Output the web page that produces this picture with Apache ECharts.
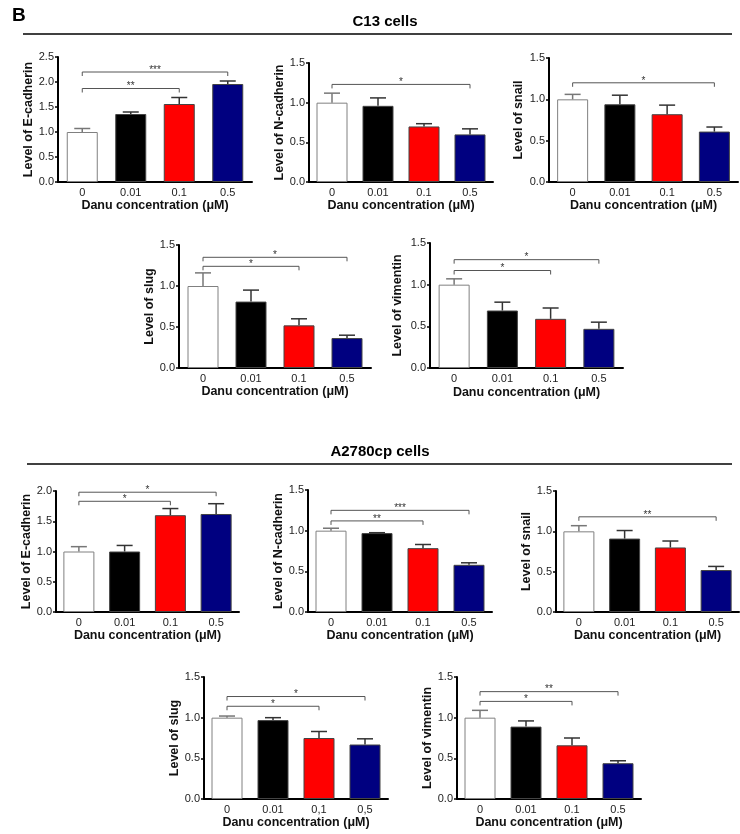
<!DOCTYPE html>
<html><head><meta charset="utf-8">
<script src="https://cdn.jsdelivr.net/npm/echarts@6/dist/echarts.min.js"></script>
<style>html,body{margin:0;padding:0;background:#fff}#c{width:740px;height:834px}</style>
</head><body><div id="c"></div>
<script>
// ---------- data ----------
const doses = ['0', '0.01', '0.1', '0.5'];
const dosesComma = ['0', '0.01', '0,1', '0,5'];
const barColors = ['#ffffff', '#000000', '#ff0000', '#000080'];
const xTitle = 'Danu concentration (\u03bcM)';

// C13 cells
const c13Ecad = [1.00, 1.36, 1.56, 1.96];
const c13EcadUp = [1.07, 1.40, 1.69, 2.02];
const c13EcadSig = [[0, 3, 2.2, '***'], [0, 2, 1.87, '**']];

const c13Ncad = [1.00, 0.96, 0.70, 0.60];
const c13NcadUp = [1.12, 1.06, 0.735, 0.67];
const c13NcadSig = [[0, 3, 1.23, '*']];

const c13Snail = [1.00, 0.94, 0.82, 0.61];
const c13SnailUp = [1.06, 1.05, 0.93, 0.665];
const c13SnailSig = [[0, 3, 1.2, '*']];

const c13Slug = [1.00, 0.81, 0.52, 0.365];
const c13SlugUp = [1.16, 0.95, 0.60, 0.40];
const c13SlugSig = [[0, 3, 1.35, '*'], [0, 2, 1.24, '*']];

const c13Vim = [1.00, 0.69, 0.59, 0.47];
const c13VimUp = [1.07, 0.79, 0.72, 0.55];
const c13VimSig = [[0, 3, 1.3, '*'], [0, 2, 1.17, '*']];

// A2780cp cells
const aEcad = [1.00, 1.00, 1.60, 1.62];
const aEcadUp = [1.08, 1.10, 1.71, 1.79];
const aEcadSig = [[0, 3, 1.98, '*'], [0, 2, 1.83, '*']];

const aNcad = [1.00, 0.97, 0.785, 0.58];
const aNcadUp = [1.03, 0.975, 0.83, 0.605];
const aNcadSig = [[0, 3, 1.25, '***'], [0, 2, 1.12, '**']];

const aSnail = [1.00, 0.91, 0.80, 0.52];
const aSnailUp = [1.07, 1.01, 0.88, 0.565];
const aSnailSig = [[0, 3, 1.18, '**']];

const aSlug = [1.00, 0.97, 0.75, 0.67];
const aSlugUp = [1.02, 1.00, 0.83, 0.74];
const aSlugSig = [[0, 3, 1.26, '*'], [0, 2, 1.14, '*']];

const aVim = [1.00, 0.89, 0.66, 0.44];
const aVimUp = [1.09, 0.96, 0.75, 0.47];
const aVimSig = [[0, 3, 1.32, '**'], [0, 2, 1.2, '*']];

// ---------- panels (layout + references to data) ----------
const panels = [
  {name: 'Level of E-cadherin', cats: doses, v: c13Ecad, up: c13EcadUp, sig: c13EcadSig, max: 2.5, left: 58, top: 57, width: 194, height: 125, gy: 20, gx: 13},
  {name: 'Level of N-cadherin', cats: doses, v: c13Ncad, up: c13NcadUp, sig: c13NcadSig, max: 1.5, left: 309, top: 63, width: 184, height: 119, gy: 20, gx: 16},
  {name: 'Level of snail', cats: doses, v: c13Snail, up: c13SnailUp, sig: c13SnailSig, max: 1.5, left: 549, top: 58, width: 189, height: 124, gy: 24, gx: 16},
  {name: 'Level of slug', cats: doses, v: c13Slug, up: c13SlugUp, sig: c13SlugSig, max: 1.5, left: 179, top: 245, width: 192, height: 123, gy: 23, gx: 17},
  {name: 'Level of vimentin', cats: doses, v: c13Vim, up: c13VimUp, sig: c13VimSig, max: 1.5, left: 430, top: 243, width: 193, height: 125, gy: 26, gx: 18},
  {name: 'Level of E-cadherin', cats: doses, v: aEcad, up: aEcadUp, sig: aEcadSig, max: 2.0, left: 56, top: 491, width: 183, height: 121, gy: 21, gx: 16},
  {name: 'Level of N-cadherin', cats: doses, v: aNcad, up: aNcadUp, sig: aNcadSig, max: 1.5, left: 308, top: 490, width: 184, height: 122, gy: 22, gx: 16},
  {name: 'Level of snail', cats: doses, v: aSnail, up: aSnailUp, sig: aSnailSig, max: 1.5, left: 556, top: 491, width: 183, height: 121, gy: 18, gx: 16},
  {name: 'Level of slug', cats: dosesComma, v: aSlug, up: aSlugUp, sig: aSlugSig, max: 1.5, left: 204, top: 677, width: 184, height: 122, gy: 21, gx: 17},
  {name: 'Level of vimentin', cats: doses, v: aVim, up: aVimUp, sig: aVimSig, max: 1.5, left: 457, top: 677, width: 184, height: 122, gy: 21, gx: 17}
];

const FONT = '"Liberation Sans", Arial, Helvetica, sans-serif';

const grid = [], xAxis = [], yAxis = [], series = [];
panels.forEach((p, k) => {
  grid.push({left: p.left, top: p.top, width: p.width, height: p.height, containLabel: false});
  xAxis.push({
    gridIndex: k, type: 'category', data: p.cats,
    name: xTitle, nameLocation: 'middle', nameGap: p.gx,
    nameTextStyle: {fontWeight: 'bold', fontSize: 12.5, color: '#111', fontFamily: FONT},
    axisLine: {lineStyle: {color: '#000', width: 2}},
    axisTick: {show: false},
    axisLabel: {color: '#222', fontSize: 11, margin: 5, fontFamily: FONT},
    splitLine: {show: false}
  });
  yAxis.push({
    gridIndex: k, type: 'value', min: 0, max: p.max, interval: 0.5,
    name: p.name, nameLocation: 'middle', nameGap: p.gy, nameRotate: 90,
    nameTextStyle: {fontWeight: 'bold', fontSize: 12.5, color: '#111', fontFamily: FONT},
    axisLine: {show: true, lineStyle: {color: '#000', width: 2}},
    axisTick: {show: true, length: 3, lineStyle: {color: '#000', width: 1.5}},
    axisLabel: {color: '#222', fontSize: 11, margin: 4, fontFamily: FONT, formatter: v => v.toFixed(1)},
    splitLine: {show: false}
  });
  series.push({
    type: 'bar', xAxisIndex: k, yAxisIndex: k, barWidth: 31,
    data: p.v.map((val, i) => ({value: val, itemStyle: {color: barColors[i], borderColor: i === 0 ? '#808080' : '#444', borderWidth: 1}})),
    silent: true, animation: false
  });
  series.push({
    type: 'custom', xAxisIndex: k, yAxisIndex: k, silent: true, animation: false, z: 3,
    encode: {x: 0, y: [1, 2]},
    data: p.v.map((val, i) => [i, val, p.up[i]]),
    renderItem: (params, api) => {
      const a = api.coord([api.value(0), api.value(1)]);
      const b = api.coord([api.value(0), api.value(2)]);
      const c = params.dataIndex === 0 ? '#777' : '#333';
      return {type: 'group', children: [
        {type: 'line', shape: {x1: a[0], y1: a[1], x2: b[0], y2: b[1]}, style: {stroke: c, lineWidth: 1.5}},
        {type: 'line', shape: {x1: b[0] - 8, y1: b[1], x2: b[0] + 8, y2: b[1]}, style: {stroke: c, lineWidth: 1.5}}
      ]};
    }
  });
  series.push({
    type: 'custom', xAxisIndex: k, yAxisIndex: k, silent: true, animation: false, z: 4,
    encode: {x: [0, 1], y: 2},
    data: p.sig.map(s => [s[0], s[1], s[2]]),
    renderItem: (params, api) => {
      const a = api.coord([api.value(0), api.value(2)]);
      const b = api.coord([api.value(1), api.value(2)]);
      const lab = p.sig[params.dataIndex][3];
      const st = {stroke: '#555', lineWidth: 1};
      return {type: 'group', children: [
        {type: 'line', shape: {x1: a[0], y1: a[1], x2: b[0], y2: b[1]}, style: st},
        {type: 'line', shape: {x1: a[0], y1: a[1], x2: a[0], y2: a[1] + 4}, style: st},
        {type: 'line', shape: {x1: b[0], y1: b[1], x2: b[0], y2: b[1] + 4}, style: st},
        {type: 'text', x: (a[0] + b[0]) / 2, y: a[1] + 3, style: {text: lab, fontSize: 10, fill: '#333', align: 'center', verticalAlign: 'bottom', fontFamily: FONT}}
      ]};
    }
  });
});

const chart = echarts.init(document.getElementById('c'), null, {renderer: 'canvas'});
chart.setOption({
  backgroundColor: '#fff',
  animation: false,
  textStyle: {fontFamily: FONT},
  grid, xAxis, yAxis, series,
  graphic: [
    {type: 'text', left: 12, top: 6, style: {text: 'B', fontSize: 19, fontWeight: 'bold', fill: '#000', fontFamily: FONT}},
    {type: 'text', x: 385, y: 22, style: {text: 'C13 cells', fontSize: 15, fontWeight: 'bold', fill: '#000', align: 'center', verticalAlign: 'middle', fontFamily: FONT}},
    {type: 'line', shape: {x1: 23, y1: 34, x2: 732, y2: 34}, style: {stroke: '#000', lineWidth: 1.5}},
    {type: 'text', x: 380, y: 452, style: {text: 'A2780cp cells', fontSize: 15, fontWeight: 'bold', fill: '#000', align: 'center', verticalAlign: 'middle', fontFamily: FONT}},
    {type: 'line', shape: {x1: 27, y1: 464, x2: 732, y2: 464}, style: {stroke: '#000', lineWidth: 1.5}}
  ]
});
</script></body></html>
